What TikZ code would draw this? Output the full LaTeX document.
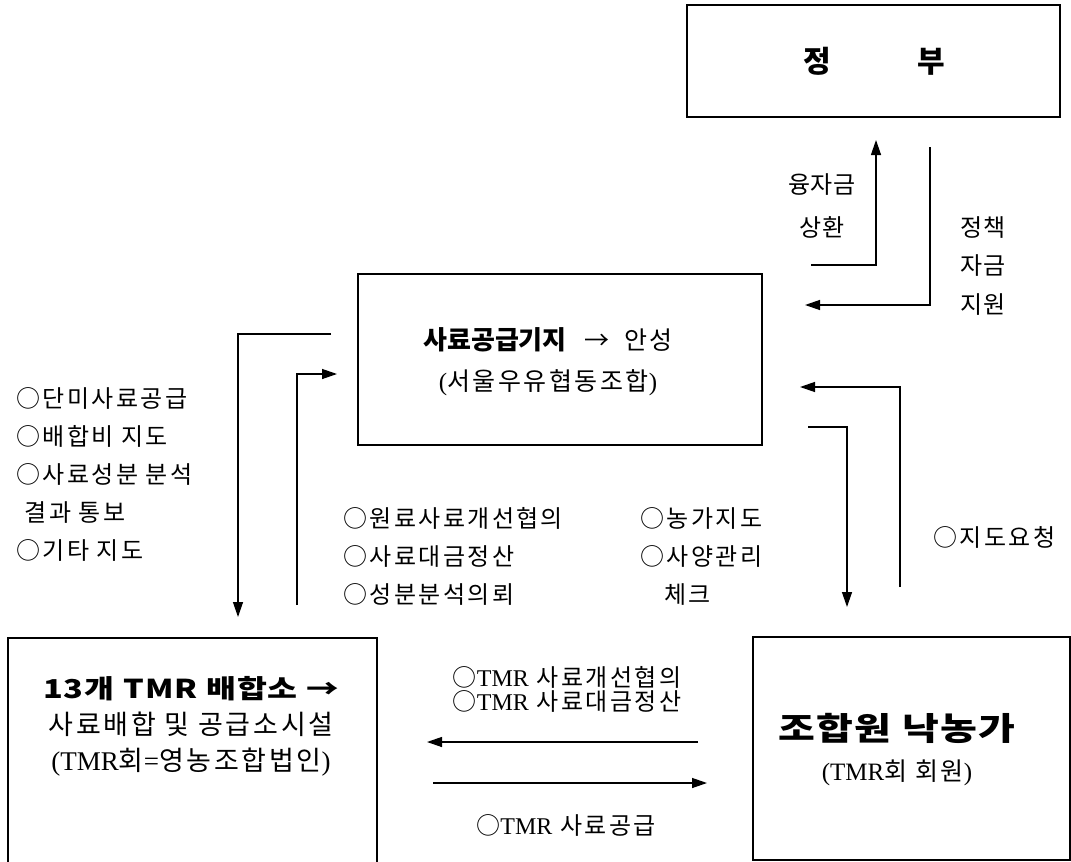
\documentclass[tikz,border=0pt]{standalone}
\usepackage{fontspec}
\setmainfont{Liberation Serif}
\newfontfamily\kr[LetterSpace=10]{Noto Sans CJK KR}
\newfontfamily\krn{Noto Sans CJK KR}
\newfontfamily\krw[FakeStretch=1.25,LetterSpace=4]{Noto Sans CJK KR}
\usetikzlibrary{arrows.meta}
\newcommand{\tm}[1]{{\rmfamily #1}}
\tikzset{
	box/.style={draw, line width=2.5pt, inner sep=0pt},
	arr/.style={line width=1.3pt, -{Triangle[length=15pt,width=10pt]}},
	txt/.style={font=\kr\fontsize{24}{38}\selectfont, inner sep=0pt, align=left},
}
\begin{document}
\begin{tikzpicture}[x=1pt,y=-1pt]
	\useasboundingbox (0,0) rectangle (1071,862);
	\clip (0,0) rectangle (1071,862);
	
	% boxes
	\node[box, minimum width=373pt, minimum height=112pt] (gov) at (873.5,61) {};
	\node[box, minimum width=404pt, minimum height=171pt] (base) at (560,359.5) {};
	\node[box, minimum width=369pt, minimum height=250pt] (mix) at (192.5,763) {};
	\node[box, minimum width=317pt, minimum height=223pt] (farm) at (911.5,748.5) {};
	
	% box texts
	\node[txt, font=\krn\fontsize{30}{36}\selectfont\bfseries] (gov-t) at (874.5,61) {정\hspace{86pt}부};
	\node[txt, align=center, font=\kr\fontsize{25}{41}\selectfont] (base-t) at (548,362) {{\krn\fontsize{26}{41}\selectfont\bfseries 사료공급기지}\hspace{0.7em}→\hspace{0.6em}안성\\\tm{(}서울우유협동조합\tm{)}};
	\node[txt, align=center, font=\kr\fontsize{27}{36}\selectfont] (mix-t) at (191,726) {{\krw\fontsize{26}{36}\selectfont\bfseries 13개 TMR 배합소 →}\\사료배합 및 공급소시설\\\tm{(TMR}회\tm{=}영농조합법인\tm{)}};
	\node[txt, align=center, font=\kr\fontsize{25}{40}\selectfont] (farm-t) at (897,750) {{\krw\fontsize{32}{40}\selectfont\bfseries 조합원 낙농가}\\\tm{(TMR}회 회원\tm{)}};
	
	% arrow ends
	\coordinate (rp-s) at (811,265);
	\coordinate (rp-e) at (876,140);
	\coordinate (fd-s) at (930,147);
	\coordinate (fd-e) at (805,305);
	\coordinate (ld-s) at (331,334);
	\coordinate (ld-e) at (238,617);
	\coordinate (lu-s) at (297,605);
	\coordinate (lu-e) at (337,374);
	\coordinate (rd-s) at (808,427);
	\coordinate (rd-e) at (847,607);
	\coordinate (ru-s) at (900,587);
	\coordinate (ru-e) at (800,387);
	\coordinate (bl-s) at (698,742);
	\coordinate (bl-e) at (427,742);
	\coordinate (br-s) at (433,783);
	\coordinate (br-e) at (707,783);
	
	% connectors
	\draw[arr] (rp-s) -| (rp-e);
	\draw[arr] (fd-s) |- (fd-e);
	\draw[arr] (ld-s) -| (ld-e);
	\draw[arr] (lu-s) |- (lu-e);
	\draw[arr] (rd-s) -| (rd-e);
	\draw[arr] (ru-s) |- (ru-e);
	\draw[arr] (bl-s) -- (bl-e);
	\draw[arr] (br-s) -- (br-e);
	
	% labels
	\node[txt, align=center, font=\krn\fontsize{24}{43}\selectfont] (repay) at (822,206) {융자금\\상환};
	\node[txt, font=\krn\fontsize{24}{38.5}\selectfont] (fund) at (983,266) {정책\\자금\\지원};
	\node[txt, anchor=west] (guide) at (16,474) {○단미사료공급\\○배합비 지도\\○사료성분 분석\\\hspace*{0.35em}결과 통보\\○기타 지도};
	\node[txt, anchor=west] (coop) at (343,556) {○원료사료개선협의\\○사료대금정산\\○성분분석의뢰};
	\node[txt, anchor=west] (visit) at (640,556) {○농가지도\\○사양관리\\\hspace*{1em}체크};
	\node[txt, anchor=west] (req) at (933,537) {○지도요청};
	\node[txt, font=\kr\fontsize{24}{24}\selectfont] (tmr-a) at (567,689) {○\tm{TMR} 사료개선협의\\○\tm{TMR} 사료대금정산};
	\node[txt] (tmr-b) at (566,825) {○\tm{TMR} 사료공급};
	
\end{tikzpicture}
\end{document}
